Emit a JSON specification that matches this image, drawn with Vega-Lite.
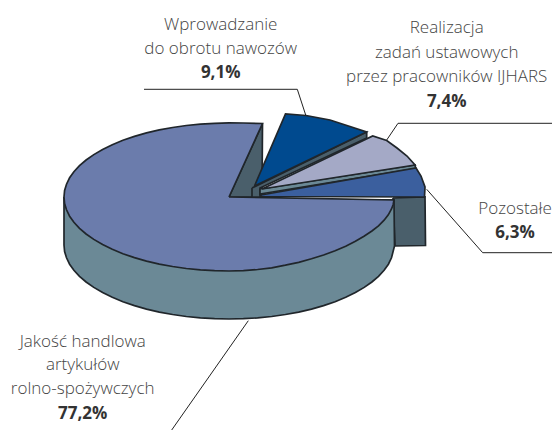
{"$schema":"https://vega.github.io/schema/vega-lite/v6.json","width":552,"height":430,"autosize":{"type":"fit","contains":"padding"},"padding":0,"background":"white","view":{"stroke":null},
"datasets":{"shapes":[
{"p":"bok","o":1,"x":393,"y":198},{"p":"bok","o":2,"x":425,"y":197},{"p":"bok","o":3,"x":425.5,"y":245.5},{"p":"bok","o":4,"x":395,"y":246},{"p":"bok","o":5,"x":393,"y":198},
{"p":"wnetrze","o":1,"x":229,"y":197},{"p":"wnetrze","o":2,"x":262.5,"y":123.5},{"p":"wnetrze","o":3,"x":262,"y":197},{"p":"wnetrze","o":4,"x":229,"y":197},
{"p":"sciana","o":1,"x":64,"y":197},{"p":"sciana","o":2,"x":64,"y":245},{"p":"sciana","o":2.5,"x":64.6,"y":251.5},{"p":"sciana","o":3,"x":66.5,"y":257.8},{"p":"sciana","o":3.5,"x":69.6,"y":264.2},{"p":"sciana","o":4,"x":73.9,"y":270.3},{"p":"sciana","o":4.5,"x":79.5,"y":276.3},{"p":"sciana","o":5,"x":86.1,"y":282},{"p":"sciana","o":5.5,"x":93.8,"y":287.4},{"p":"sciana","o":6,"x":102.6,"y":292.6},{"p":"sciana","o":6.5,"x":112.3,"y":297.3},{"p":"sciana","o":7,"x":122.9,"y":301.7},{"p":"sciana","o":7.5,"x":134.4,"y":305.6},{"p":"sciana","o":8,"x":146.5,"y":309.1},{"p":"sciana","o":8.5,"x":159.3,"y":312.1},{"p":"sciana","o":9,"x":172.6,"y":314.5},{"p":"sciana","o":9.5,"x":186.3,"y":316.5},{"p":"sciana","o":10,"x":200.4,"y":317.9},{"p":"sciana","o":10.5,"x":214.6,"y":318.7},{"p":"sciana","o":11,"x":229,"y":319},{"p":"sciana","o":11.5,"x":243.4,"y":318.7},{"p":"sciana","o":12,"x":257.6,"y":317.9},{"p":"sciana","o":12.5,"x":271.7,"y":316.5},{"p":"sciana","o":13,"x":285.4,"y":314.5},{"p":"sciana","o":13.5,"x":298.7,"y":312.1},{"p":"sciana","o":14,"x":311.5,"y":309.1},{"p":"sciana","o":14.5,"x":323.6,"y":305.6},{"p":"sciana","o":15,"x":335.1,"y":301.7},{"p":"sciana","o":15.5,"x":345.7,"y":297.3},{"p":"sciana","o":16,"x":355.4,"y":292.6},{"p":"sciana","o":16.5,"x":364.2,"y":287.4},{"p":"sciana","o":17,"x":371.9,"y":282},{"p":"sciana","o":17.5,"x":378.5,"y":276.3},{"p":"sciana","o":18,"x":384.1,"y":270.3},{"p":"sciana","o":18.5,"x":388.4,"y":264.2},{"p":"sciana","o":19,"x":391.5,"y":257.8},{"p":"sciana","o":20,"x":394.5,"y":246},{"p":"sciana","o":21,"x":394,"y":200},{"p":"sciana","o":22,"x":64,"y":197},
{"p":"gora","o":1,"x":229,"y":197},{"p":"gora","o":2,"x":262.5,"y":123.5},{"p":"gora","o":3,"x":243.4,"y":123},{"p":"gora","o":4,"x":229,"y":122.8},{"p":"gora","o":4.5,"x":214.6,"y":123.3},{"p":"gora","o":5,"x":200.4,"y":124.1},{"p":"gora","o":5.5,"x":186.3,"y":125.5},{"p":"gora","o":6,"x":172.6,"y":127.5},{"p":"gora","o":6.5,"x":159.3,"y":129.9},{"p":"gora","o":7,"x":146.5,"y":132.9},{"p":"gora","o":7.5,"x":134.4,"y":136.4},{"p":"gora","o":8,"x":122.9,"y":140.3},{"p":"gora","o":8.5,"x":112.3,"y":144.7},{"p":"gora","o":9,"x":102.6,"y":149.4},{"p":"gora","o":9.5,"x":93.8,"y":154.6},{"p":"gora","o":10,"x":86.1,"y":160},{"p":"gora","o":10.5,"x":79.5,"y":165.7},{"p":"gora","o":11,"x":73.9,"y":171.7},{"p":"gora","o":11.5,"x":69.6,"y":177.8},{"p":"gora","o":12,"x":66.5,"y":184.2},{"p":"gora","o":12.5,"x":64.6,"y":190.5},{"p":"gora","o":13,"x":64,"y":197},{"p":"gora","o":13.5,"x":64.6,"y":203.5},{"p":"gora","o":14,"x":66.5,"y":209.8},{"p":"gora","o":14.5,"x":69.6,"y":216.2},{"p":"gora","o":15,"x":73.9,"y":222.3},{"p":"gora","o":15.5,"x":79.5,"y":228.3},{"p":"gora","o":16,"x":86.1,"y":234},{"p":"gora","o":16.5,"x":93.8,"y":239.4},{"p":"gora","o":17,"x":102.6,"y":244.6},{"p":"gora","o":17.5,"x":112.3,"y":249.3},{"p":"gora","o":18,"x":122.9,"y":253.7},{"p":"gora","o":18.5,"x":134.4,"y":257.6},{"p":"gora","o":19,"x":146.5,"y":261.1},{"p":"gora","o":19.5,"x":159.3,"y":264.1},{"p":"gora","o":20,"x":172.6,"y":266.5},{"p":"gora","o":20.5,"x":186.3,"y":268.5},{"p":"gora","o":21,"x":200.4,"y":269.9},{"p":"gora","o":21.5,"x":214.6,"y":270.7},{"p":"gora","o":22,"x":229,"y":271},{"p":"gora","o":22.5,"x":243.4,"y":270.6},{"p":"gora","o":23,"x":257.6,"y":269.5},{"p":"gora","o":23.5,"x":271.7,"y":267.8},{"p":"gora","o":24,"x":285.4,"y":265.2},{"p":"gora","o":24.5,"x":298.7,"y":262.3},{"p":"gora","o":25,"x":311.5,"y":258.8},{"p":"gora","o":25.5,"x":323.6,"y":255},{"p":"gora","o":26,"x":335.1,"y":250.8},{"p":"gora","o":26.5,"x":345.7,"y":246.2},{"p":"gora","o":27,"x":355.4,"y":241.2},{"p":"gora","o":27.5,"x":364,"y":236.2},{"p":"gora","o":28,"x":371.9,"y":231},{"p":"gora","o":28.5,"x":378.5,"y":225.8},{"p":"gora","o":29,"x":384.1,"y":220.2},{"p":"gora","o":29.5,"x":388.3,"y":214.8},{"p":"gora","o":30,"x":391.5,"y":209},{"p":"gora","o":30.5,"x":393.2,"y":204.5},{"p":"gora","o":31,"x":394,"y":200},{"p":"gora","o":32,"x":229,"y":197},
{"p":"pasek1","o":1,"x":252,"y":188},{"p":"pasek1","o":2,"x":366.7,"y":132},{"p":"pasek1","o":3,"x":366.7,"y":138},{"p":"pasek1","o":4,"x":260,"y":188},{"p":"pasek1","o":5,"x":260,"y":197},{"p":"pasek1","o":6,"x":252,"y":197},{"p":"pasek1","o":7,"x":252,"y":188},
{"p":"niebieski","o":1,"x":254.5,"y":186},{"p":"niebieski","o":2,"x":285.5,"y":114},{"p":"niebieski","o":3,"x":306,"y":115.5},{"p":"niebieski","o":4,"x":330,"y":120},{"p":"niebieski","o":5,"x":350,"y":126.5},{"p":"niebieski","o":6,"x":366.5,"y":132},{"p":"niebieski","o":7,"x":254.5,"y":186},
{"p":"pasek2","o":1,"x":260,"y":189},{"p":"pasek2","o":2,"x":415,"y":165},{"p":"pasek2","o":3,"x":415.7,"y":168.5},{"p":"pasek2","o":4,"x":260,"y":194},{"p":"pasek2","o":5,"x":260,"y":189},
{"p":"lawenda","o":1,"x":262,"y":189},{"p":"lawenda","o":2,"x":372.7,"y":136},{"p":"lawenda","o":3,"x":386.7,"y":140.5},{"p":"lawenda","o":4,"x":397,"y":148},{"p":"lawenda","o":5,"x":407,"y":156},{"p":"lawenda","o":6,"x":415,"y":165},{"p":"lawenda","o":7,"x":262,"y":189},
{"p":"srodek","o":1,"x":261,"y":195},{"p":"srodek","o":2,"x":416,"y":168},{"p":"srodek","o":3,"x":421,"y":176},{"p":"srodek","o":4,"x":425,"y":187},{"p":"srodek","o":5,"x":424.5,"y":197},{"p":"srodek","o":6,"x":261,"y":196.5},{"p":"srodek","o":7,"x":261,"y":195}
],
"leaders":[
{"l":"a","o":1,"x":144,"y":89.3},{"l":"a","o":2,"x":297.3,"y":89.3},{"l":"a","o":3,"x":305.7,"y":115},
{"l":"b","o":1,"x":552,"y":123.3},{"l":"b","o":2,"x":398,"y":123.3},{"l":"b","o":3,"x":386.7,"y":140},
{"l":"c","o":1,"x":426.7,"y":189.3},{"l":"c","o":2,"x":482.7,"y":252.7},{"l":"c","o":3,"x":552,"y":252.7},
{"l":"d","o":1,"x":248.3,"y":320.7},{"l":"d","o":2,"x":171.7,"y":430}
],
"labels":[
{"t":"Wprowadzanie","x":220.7,"y":25,"w":"normal"},{"t":"do obrotu nawozów","x":220.7,"y":49,"w":"normal"},{"t":"9,1%","x":220.7,"y":73,"w":"bold"},
{"t":"Realizacja","x":446.7,"y":28,"w":"normal"},{"t":"zadań ustawowych","x":446.7,"y":53,"w":"normal"},{"t":"przez pracowników IJHARS","x":446.7,"y":77,"w":"normal"},{"t":"7,4%","x":446.7,"y":102,"w":"bold"},
{"t":"Pozostałe","x":515,"y":209,"w":"normal"},{"t":"6,3%","x":515,"y":233,"w":"bold"},
{"t":"Jakość handlowa","x":82.7,"y":341.7,"w":"normal"},{"t":"artykułów","x":82.7,"y":365,"w":"normal"},{"t":"rolno-spożywczych","x":82.7,"y":389,"w":"normal"},{"t":"77,2%","x":82.7,"y":414,"w":"bold"}
]},
"encoding":{"x":{"field":"x","type":"quantitative","axis":null,"scale":{"domain":[0,552],"nice":false,"zero":false}},"y":{"field":"y","type":"quantitative","axis":null,"scale":{"domain":[430,0],"nice":false,"zero":false}}},
"layer":[
{"data":{"name":"shapes"},"mark":{"type":"line","stroke":"#20262b","strokeWidth":1.7,"strokeJoin":"miter","clip":true},"encoding":{"order":{"field":"o","type":"quantitative"},"detail":{"field":"p"},"fill":{"field":"p","type":"nominal","legend":null,"sort":null,"scale":{"domain":["bok","wnetrze","sciana","gora","pasek1","niebieski","pasek2","lawenda","srodek"],"range":["#4a5f6b","#4a5f6b","#6b8996","#6b7cac","#4a5f6b","#004a8f","#6b8996","#a4a9c6","#3b5f9e"]}}}},
{"data":{"name":"leaders"},"mark":{"type":"line","stroke":"#222222","strokeWidth":1,"clip":true},"encoding":{"order":{"field":"o","type":"quantitative"},"detail":{"field":"l"}}},
{"data":{"name":"labels"},"transform":[{"filter":"datum.w==='normal'"}],"mark":{"type":"text","font":"Open Sans","fontSize":17,"fontWeight":300,"fill":"#444444","align":"center","baseline":"middle"},"encoding":{"text":{"field":"t"}}},
{"data":{"name":"labels"},"transform":[{"filter":"datum.w==='bold'"}],"mark":{"type":"text","font":"Open Sans","fontSize":17,"fontWeight":700,"fill":"#333333","align":"center","baseline":"middle"},"encoding":{"text":{"field":"t"}}}
]}
